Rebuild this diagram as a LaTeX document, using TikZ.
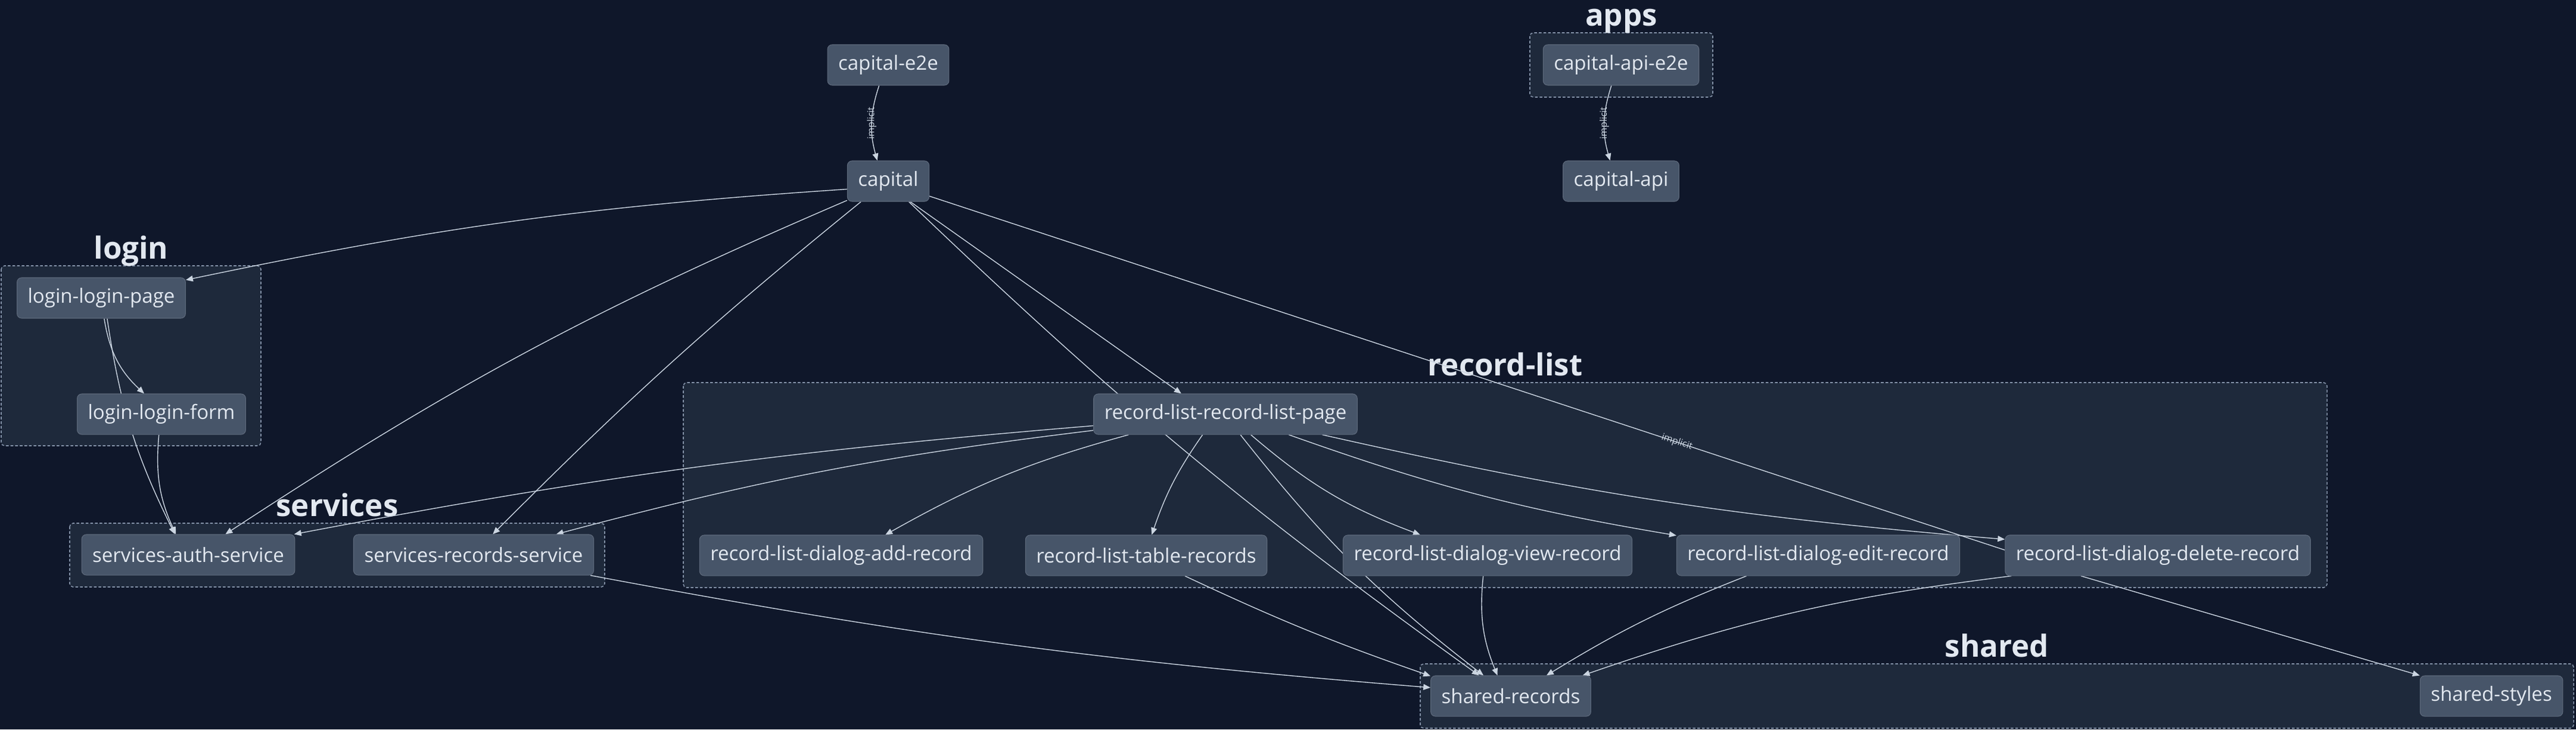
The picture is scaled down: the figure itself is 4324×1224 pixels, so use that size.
\documentclass[tikz,border=0pt]{standalone}
\usepackage{fontspec}
\setmainfont{Open Sans}
\usetikzlibrary{arrows.meta}

\definecolor{canvas}{HTML}{0F172A}
\definecolor{groupfill}{HTML}{1E293B}
\definecolor{groupline}{HTML}{8391A7}
\definecolor{nodefill}{HTML}{475569}
\definecolor{nodetext}{HTML}{E2E8F0}
\definecolor{linkcol}{HTML}{CBD5E1}

\pgfdeclarelayer{back}
\pgfdeclarelayer{groups}
\pgfdeclarelayer{links}
\pgfsetlayers{back,groups,links,main}

\begin{document}
\begin{tikzpicture}[x=0.01cm,y=-0.01cm,
    pkg/.style={fill=nodefill, draw=nodefill!88!white, line width=0.3pt,
      rounded corners=2.2pt, text=nodetext, font=\fontsize{9.4}{11}\selectfont,
      inner xsep=0.18cm, minimum height=0.68cm},
    group/.style={fill=groupfill, draw=groupline, line width=0.45pt,
      dash pattern=on 1.3pt off 0.9pt, rounded corners=1.6pt},
    grouplabel/.style={anchor=base, text=nodetext,
      font=\fontsize{14.5}{16}\selectfont\bfseries},
    link/.style={draw=linkcol, line width=0.4pt},
    dep/.style={link, -{Triangle[length=3.4pt,width=2.8pt]}},
    implicit/.style={text=linkcol, font=\fontsize{4.5}{5}\selectfont, inner sep=0.5pt}]

      \useasboundingbox (0,0) rectangle (4324,1224);
      \begin{pgfonlayer}{back}
        \fill[canvas] (0,0) rectangle (4324,1224);
      \end{pgfonlayer}

      %%%%%%%%%%%%%%%%%%%%%%%%%%%%%%%%%%%%%%%%%%%%%%%%%%%%%%%%%%%%%%%%%%%%%%%%%%%
      %%%%  Groups
      \begin{pgfonlayer}{groups}
      \foreach \gx/\gy/\gw/\gh/\gname in {2568/55/2875/163/apps,
                                         2/446/438/748/login,
                                         117/878/1015/985/services,
                                         1147/642/3906/986/record-list,
                                         2384/1114/4320/1222/shared}
      {\draw[group] (\gx,\gy) rectangle (\gw,\gh);
       \node[grouplabel] (label-\gname) at ({(\gx+\gw)/2},\gy-12) {\gname};
      };
      \end{pgfonlayer}

      %%%%%%%%%%%%%%%%%%%%%%%%%%%%%%%%%%%%%%%%%%%%%%%%%%%%%%%%%%%%%%%%%%%%%%%%%%%
      %%%%  Projects
      \node[pkg] (capitale2e) at (1491,109) {capital-e2e};
      \node[pkg] (capital) at (1491,304) {capital};
      \node[pkg] (apie2e) at (2721,109) {capital-api-e2e};
      \node[pkg] (capitalapi) at (2721,304) {capital-api};

      \node[pkg] (loginpage) at (170,500) {login-login-page};
      \node[pkg] (loginform) at (271,695) {login-login-form};

      \node[pkg] (authservice) at (316,931) {services-auth-service};
      \node[pkg] (recordsservice) at (795,931) {services-records-service};

      \node[pkg] (listpage) at (2057,695) {record-list-record-list-page};
      \node[pkg] (dialogadd) at (1412,932) {record-list-dialog-add-record};
      \node[pkg] (tablerecords) at (1924,932) {record-list-table-records};
      \node[pkg] (dialogview) at (2497,932) {record-list-dialog-view-record};
      \node[pkg] (dialogedit) at (3052,932) {record-list-dialog-edit-record};
      \node[pkg] (dialogdelete) at (3622,932) {record-list-dialog-delete-record};

      \node[pkg] (sharedrecords) at (2536,1168) {shared-records};
      \node[pkg] (sharedstyles) at (4182,1168) {shared-styles};

      %%%%%%%%%%%%%%%%%%%%%%%%%%%%%%%%%%%%%%%%%%%%%%%%%%%%%%%%%%%%%%%%%%%%%%%%%%%
      %%%%  Dependencies
      \begin{pgfonlayer}{links}
      \draw[dep] (capitale2e.246) to[bend right=17]
        node[implicit, midway, rotate=90] {implicit} (capital.118);
      \draw[dep] (apie2e.245) to[bend right=17]
        node[implicit, midway, rotate=90] {implicit} (capitalapi.118);

      % capital
      \draw[dep] (capital.191) to[bend right=4] (loginpage.12);
      \draw[dep] (capital.205) to[bend right=5] (authservice.29.5);
      \draw[dep] (capital.217) to[bend right=3] (recordsservice.47);
      \draw[dep] (capital.317) -- (listpage.155);
      \draw[dep] (capital.315) to[bend right=4] (sharedrecords.147);
      \draw[link] (capital.340) -- node[implicit, sloped, pos=0.695] {implicit}
        (dialogdelete.178.5);

      % login
      \draw[dep] (loginpage.278) to[bend right=19] (loginform.130);
      \draw[dep] (loginpage.286) to[bend right=9] (authservice.123);
      \draw[dep] (loginform.263) to[bend right=15] (authservice.121);

      % record-list-record-list-page
      \draw[dep] (listpage.192) to[bend right=7] (dialogadd.25);
      \draw[dep] (listpage.222) to[bend right=8] (tablerecords.75);
      \draw[dep] (listpage.321) to[bend right=10] (dialogview.163);
      \draw[dep] (listpage.342) to[bend right=5] (dialogedit.172);
      \draw[dep] (listpage.348) to[bend right=4] (dialogdelete.174);
      \draw[dep] (listpage.185) to[bend right=3] (authservice.11);
      \draw[dep] (listpage.187) to[bend right=4] (recordsservice.14);
      \draw[dep] (listpage.306) to[bend right=7] (sharedrecords.143);

      % into shared
      \draw[dep] (recordsservice.350) to[bend right=3] (sharedrecords.174);
      \draw[dep] (tablerecords.332) to[bend right=3] (sharedrecords.166);
      \draw[dep] (dialogview.258) to[bend right=14] (sharedrecords.123);
      \draw[dep] (dialogedit.196) to[bend right=5] (sharedrecords.30);
      \draw[dep] (dialogdelete.188) to[bend right=6] (sharedrecords.16);
      \draw[dep] (dialogdelete.195) -- (sharedstyles.164);
      \end{pgfonlayer}
    \end{tikzpicture}
\end{document}
